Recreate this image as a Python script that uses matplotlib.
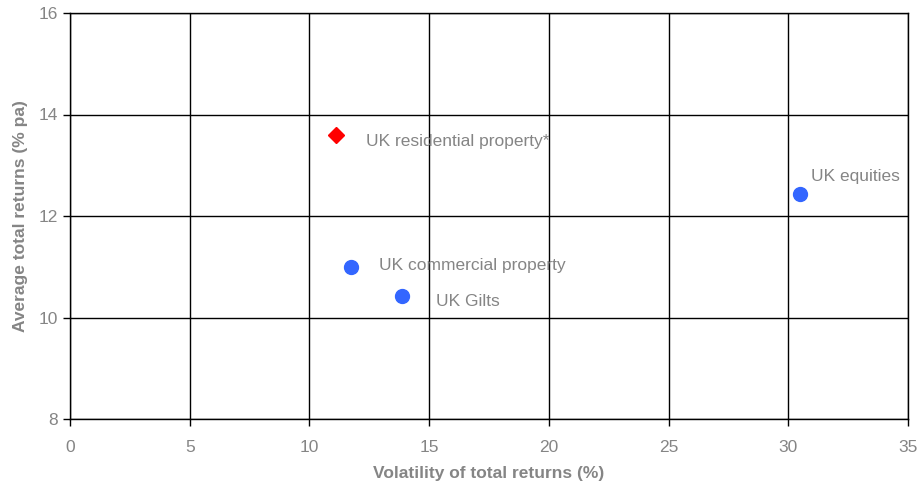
import matplotlib.pyplot as plt

plt.rcParams['font.family'] = ['Liberation Sans', 'DejaVu Sans']

assets = ["UK residential property*", "UK equities", "UK commercial property", "UK Gilts"]
volatility = [11.1, 30.5, 11.75, 13.85]
returns = [13.6, 12.43, 11.0, 10.43]
markers = ["D", "o", "o", "o"]
colors = ["#ff0000", "#3366ff", "#3366ff", "#3366ff"]
label_offsets = [(22, -5), (8, 13), (20, 1), (25, -4)]

grey = "#858585"

fig = plt.figure(figsize=(9.18, 4.87), dpi=100)
ax = fig.add_axes([70 / 918, 1 - 419 / 487, 838 / 918, 406 / 487])

for name, x, y, m, c, off in zip(assets, volatility, returns, markers, colors, label_offsets):
    size = 8 if m == "D" else 10
    ax.plot(x, y, marker=m, color=c, markersize=size, linestyle="none", zorder=3)
    ax.annotate(name, (x, y), xytext=off, textcoords="offset points",
                ha="left", va="center", fontsize=12.5, color=grey)

ax.set_xlim(0, 35)
ax.set_ylim(8, 16)
ax.set_xticks(range(0, 36, 5))
ax.set_yticks(range(8, 17, 2))
ax.grid(True, color="black", linewidth=1)
ax.set_axisbelow(True)
for s in ax.spines.values():
    s.set_color("black")
    s.set_linewidth(1)
ax.tick_params(colors="black", labelcolor=grey, labelsize=12.5, length=5, width=1, direction="out")
ax.tick_params(axis="x", pad=10)

ax.set_xlabel("Volatility of total returns (%)", fontsize=12.5, fontweight="bold", color=grey, labelpad=8)
ax.set_ylabel("Average total returns (% pa)", fontsize=12.5, fontweight="bold", color=grey, labelpad=8)

fig.savefig("out.png", dpi=100)
